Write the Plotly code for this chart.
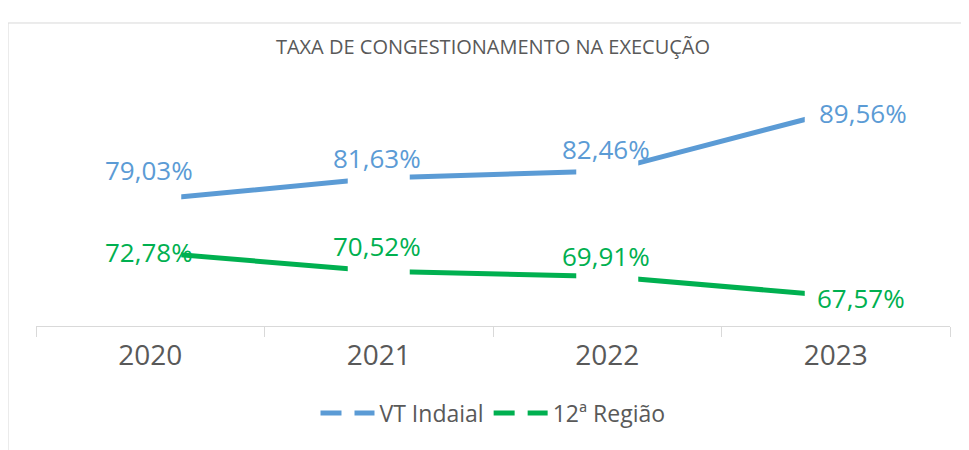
import plotly.graph_objects as go

years = ["2020", "2021", "2022", "2023"]
vt_indaial = [79.03, 81.63, 82.46, 89.56]
regiao_12 = [72.78, 70.52, 69.91, 67.57]

BLUE = "#5B9BD5"
GREEN = "#00B050"
GREY_TEXT = "#595959"

# label offsets (px) relative to each point, like the excel layout
blue_offsets = [(-1, 30), (-2, 20), (-1, 22), (27, -2)]
green_offsets = [(-1, 0), (-2, 25), (-1, 20), (25, -2)]


def pct(v):
    return f"{v:.2f}".replace(".", ",") + "%"


fig = go.Figure()

fig.add_trace(go.Scatter(x=years, y=vt_indaial, mode="lines",
                         line=dict(color=BLUE, width=5),
                         showlegend=False, hoverinfo="skip"))
fig.add_trace(go.Scatter(x=years, y=regiao_12, mode="lines",
                         line=dict(color=GREEN, width=5),
                         showlegend=False, hoverinfo="skip"))

# white boxes behind the data labels break the lines
for series in (vt_indaial, regiao_12):
    fig.add_trace(go.Scatter(x=years, y=series, mode="markers",
                             marker=dict(symbol="square", size=62, color="white",
                                         line=dict(width=0)),
                             showlegend=False, hoverinfo="skip"))

# legend entries with dashed symbols
fig.add_trace(go.Scatter(x=[None], y=[None], mode="lines", name="VT Indaial",
                         line=dict(color=BLUE, width=5, dash="21px,13px")))
fig.add_trace(go.Scatter(x=[None], y=[None], mode="lines", name="12ª Região",
                         line=dict(color=GREEN, width=5, dash="21px,13px")))

# category axis: annotations go by index (numeric-looking strings would be read as positions)
for series, offs, color in ((vt_indaial, blue_offsets, BLUE),
                            (regiao_12, green_offsets, GREEN)):
    for i, (v, (dx, dy)) in enumerate(zip(series, offs)):
        fig.add_annotation(x=i, y=v, xref="x", yref="y", text=pct(v),
                           showarrow=False, xshift=dx, yshift=dy,
                           font=dict(family="Open Sans", size=26, color=color))

# outer chart border
fig.add_shape(type="rect", xref="paper", yref="paper",
              x0=-0.0306, x1=1.2, y0=-0.6, y1=1.1836,
              line=dict(color="#d9d9d9", width=1), fillcolor="rgba(0,0,0,0)")

fig.update_layout(
    width=969,
    height=450,
    margin=dict(l=28, r=27, t=62, b=132),
    paper_bgcolor="white",
    plot_bgcolor="white",
    title=dict(text="TAXA DE CONGESTIONAMENTO NA EXECUÇÃO",
               x=0.5, xref="paper", xanchor="center",
               y=1 - 39 / 450, yanchor="middle",
               font=dict(family="Open Sans", size=20, color=GREY_TEXT)),
    xaxis=dict(type="category", range=[-0.5, 3.5], showgrid=False,
               showline=True, linecolor="#d9d9d9", linewidth=1,
               ticks="outside", tickson="boundaries", ticklen=10,
               tickcolor="#d9d9d9", zeroline=False, ticklabelstandoff=4,
               tickfont=dict(family="Open Sans", size=28, color=GREY_TEXT)),
    yaxis=dict(range=[64.0, 94.5], visible=False, showgrid=False, zeroline=False),
    legend=dict(orientation="h", x=0.5, xanchor="center", xref="paper",
                y=-0.34, yanchor="middle", itemwidth=54,
                font=dict(family="Open Sans", size=23, color=GREY_TEXT)),
    showlegend=True,
)

fig.write_html("out.html")
